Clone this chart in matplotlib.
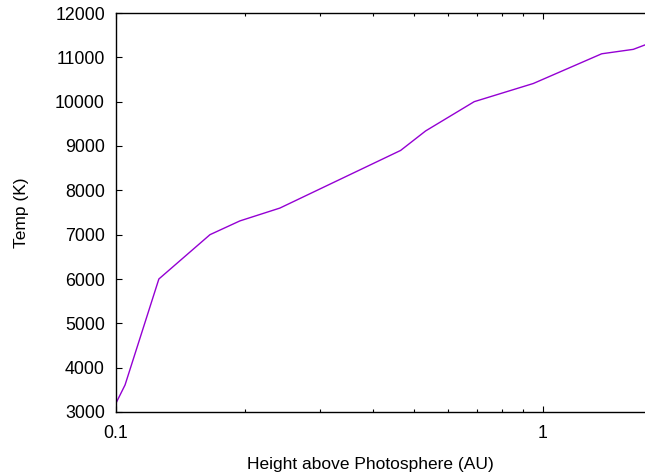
import numpy as np
import matplotlib
matplotlib.use("Agg")
import matplotlib.pyplot as plt
from matplotlib.ticker import LogLocator, FixedLocator, NullFormatter

plt.rcParams['font.family'] = ['Liberation Sans', 'DejaVu Sans']

# height above photosphere (AU) and temperature (K)
height_au = [0.100, 0.105, 0.126, 0.166, 0.195, 0.242, 0.464, 0.531, 0.690,
             0.949, 1.372, 1.627, 1.733]
temp_k = [3200, 3610, 6000, 7000, 7310, 7600, 8900, 9340, 10000,
          10410, 11080, 11180, 11280]

fig = plt.figure(figsize=(6.45, 4.72), dpi=100)
ax = fig.add_axes([116 / 645, 1 - 412 / 472, 1 - 116 / 645, (412 - 13) / 472])

ax.plot(height_au, temp_k, color='#9400D3', lw=1.0)

ax.set_xscale('log')
ax.set_xlim(0.1, 1.733)
ax.set_ylim(3000, 12000)
ax.xaxis.set_major_locator(FixedLocator([0.1, 1]))
ax.set_xticklabels(['0.1', '1'])
ax.xaxis.set_minor_locator(LogLocator(base=10, subs=np.arange(2, 10)))
ax.xaxis.set_minor_formatter(NullFormatter())
ax.set_yticks(np.arange(3000, 12001, 1000))

ax.spines['right'].set_visible(False)
for s in ['left', 'bottom', 'top']:
    ax.spines[s].set_linewidth(1.0)

ax.tick_params(axis='x', which='major', direction='in', length=4.5, width=0.8,
               top=True, labelsize=12.8, pad=9)
ax.tick_params(axis='x', which='minor', direction='in', length=2.3, width=0.8,
               top=True)
ax.tick_params(axis='y', which='major', direction='in', length=4.5, width=0.8,
               right=False, labelsize=12.8, pad=8)

ax.set_xlabel('Height above Photosphere (AU)', fontsize=12.5, labelpad=11)
ax.xaxis.label.set_x(0.48)
ax.set_ylabel('Temp (K)', fontsize=12.5, labelpad=19)

fig.savefig('out.png', dpi=100)
